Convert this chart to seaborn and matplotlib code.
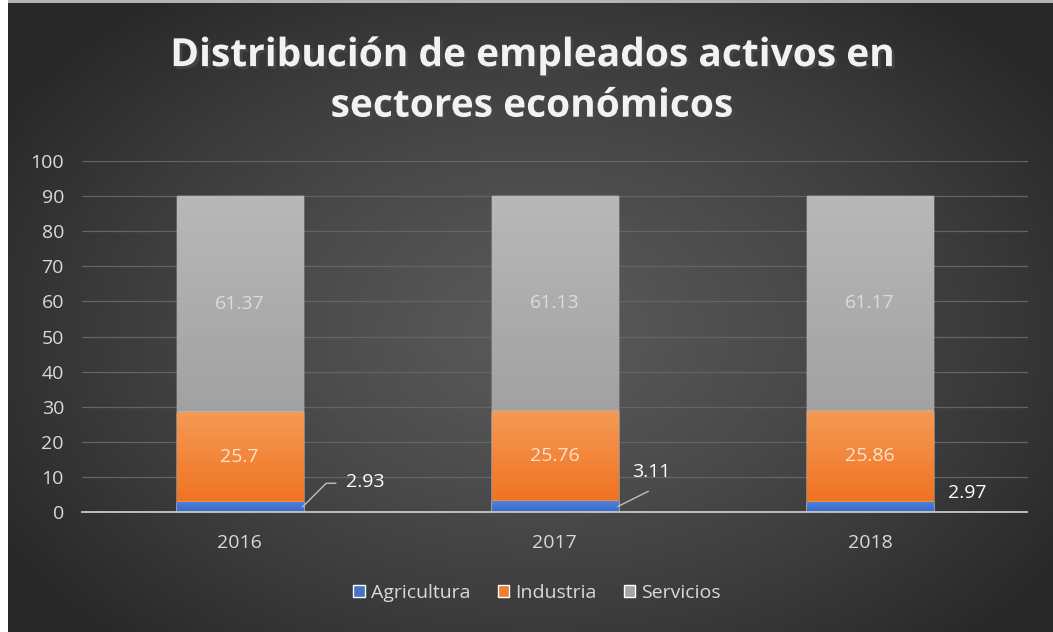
import numpy as np
import pandas as pd
import seaborn as sns
import matplotlib.pyplot as plt
from matplotlib.colors import LinearSegmentedColormap
from matplotlib import patheffects

# Data
years = ["2016", "2017", "2018"]
agricultura = [2.93, 3.11, 2.97]
industria = [25.7, 25.76, 25.86]
servicios = [61.37, 61.13, 61.17]

df = pd.DataFrame({"year": years, "Agricultura": agricultura,
                   "Industria": industria, "Servicios": servicios})
df["top_ind"] = df["Agricultura"] + df["Industria"]
df["top_serv"] = df["top_ind"] + df["Servicios"]

sns.set_style("white")
plt.rcParams["font.family"] = ["Open Sans", "DejaVu Sans"]

fig = plt.figure(figsize=(10.53, 6.32), dpi=100)

# radial dark background
bg = fig.add_axes([0, 0, 1, 1], zorder=-10)
yy, xx = np.mgrid[0:632, 0:1053]
r = np.sqrt(((xx - 540) / 620.0) ** 2 + ((yy - 330) / 420.0) ** 2)
r = np.clip(r, 0, 1)
shade = 0.35 - 0.19 * r ** 1.3
bg.imshow(np.dstack([shade] * 3), extent=(0, 1053, 632, 0), aspect="auto")
bg.axvspan(0, 8, color="white", lw=0)
bg.axhspan(0, 3, xmin=8 / 1053, color="#b4b4b4", lw=0)
bg.set_xlim(0, 1053)
bg.set_ylim(632, 0)
bg.axis("off")

ax = fig.add_axes([82 / 1053, 1 - 512 / 632, (1027.5 - 82) / 1053, (512 - 161) / 632])
ax.set_facecolor("none")

c_serv, c_ind, c_agri = "#a5a5a5", "#ed7d31", "#4472c4"
sns.barplot(data=df, x="year", y="top_serv", color=c_serv, width=0.4,
            saturation=1, label="Servicios", ax=ax)
sns.barplot(data=df, x="year", y="top_ind", color=c_ind, width=0.4,
            saturation=1, label="Industria", ax=ax)
sns.barplot(data=df, x="year", y="Agricultura", color=c_agri, width=0.4,
            saturation=1, label="Agricultura", ax=ax)
handles, labels = ax.get_legend_handles_labels()
if ax.get_legend() is not None:
    ax.get_legend().remove()

# gradient fill inside each bar
grads = [("#b8b8b8", "#979797"), ("#f59a55", "#ef6f1c"), ("#4f82e0", "#3a68c4")]
for k, p in enumerate(ax.patches):
    layer = k // 3
    p.set_zorder(2 + layer)
    cmap = LinearSegmentedColormap.from_list("g", [grads[layer][1], grads[layer][0]])
    x0, y0 = p.get_x(), p.get_y()
    w, h = p.get_width(), p.get_height()
    im = ax.imshow(np.linspace(0, 1, 100).reshape(-1, 1), cmap=cmap, origin="lower",
                   extent=(x0, x0 + w, y0, y0 + h), aspect="auto", zorder=2.5 + layer)
    im.set_clip_path(p)

ax.set_xlim(-0.5, 2.5)
ax.set_ylim(0, 100)
ax.set_yticks(range(0, 101, 10))
ax.yaxis.grid(True, color="#646464", lw=0.9)
ax.set_axisbelow(True)
for s in ["top", "right", "left"]:
    ax.spines[s].set_visible(False)
ax.spines["bottom"].set_color("#c8c8c8")
ax.spines["bottom"].set_linewidth(1.3)
ax.spines["bottom"].set_zorder(10)
ax.tick_params(axis="both", length=0, colors="#d9d9d9", labelsize=14)
ax.tick_params(axis="y", pad=13)
ax.tick_params(axis="x", pad=16)
ax.set_xlabel("")
ax.set_ylabel("")

# labels inside bars
for i in range(len(years)):
    ax.text(i, df["top_ind"][i] + servicios[i] / 2, f"{servicios[i]:g}", ha="center",
            va="center", color="#dcdcdc", fontsize=14, zorder=8)
    ax.text(i, agricultura[i] + industria[i] / 2, f"{industria[i]:g}", ha="center",
            va="center", color="#fde3cf", fontsize=14, zorder=8)

# Agricultura labels outside, with leader lines for the first two
text_off = [(45, 18), (24, 25), (25, 10)]
line_end = [(24, 17), (22, 11), None]
for i in range(len(years)):
    xr = i + 0.2
    anchor = (xr, agricultura[i] / 2)
    ax.annotate(f"{agricultura[i]:g}", xy=anchor, xytext=text_off[i],
                textcoords="offset points", ha="center", va="center", color="white",
                fontsize=14, zorder=9, annotation_clip=False)
    if line_end[i] is not None:
        style = "angle,angleA=0,angleB=45,rad=0" if i == 0 else "arc3"
        ax.annotate("", xy=anchor, xytext=line_end[i], textcoords="offset points",
                    zorder=9, arrowprops=dict(arrowstyle="-", color="#bfbfbf", lw=1,
                                              shrinkA=0, shrinkB=0,
                                              connectionstyle=style))

# title
shadow = [patheffects.withSimplePatchShadow(offset=(2, -2), alpha=0.7)]
fig.text(0.505, 0.912, "Distribución de empleados activos en", ha="center", va="center",
         fontsize=28, fontweight="bold", color="#f2f2f2", path_effects=shadow)
fig.text(0.505, 0.832, "sectores económicos", ha="center", va="center",
         fontsize=28, fontweight="bold", color="#f2f2f2", path_effects=shadow)

order = [labels.index(n) for n in ["Agricultura", "Industria", "Servicios"]]
fig.legend([handles[j] for j in order], [labels[j] for j in order], ncol=3,
           loc="center", bbox_to_anchor=(0.51, 0.062), frameon=False,
           fontsize=14, handlelength=0.6, handleheight=0.6, handletextpad=0.3,
           columnspacing=1.4, labelcolor="#d9d9d9")

fig.savefig("out.png", dpi=100)
